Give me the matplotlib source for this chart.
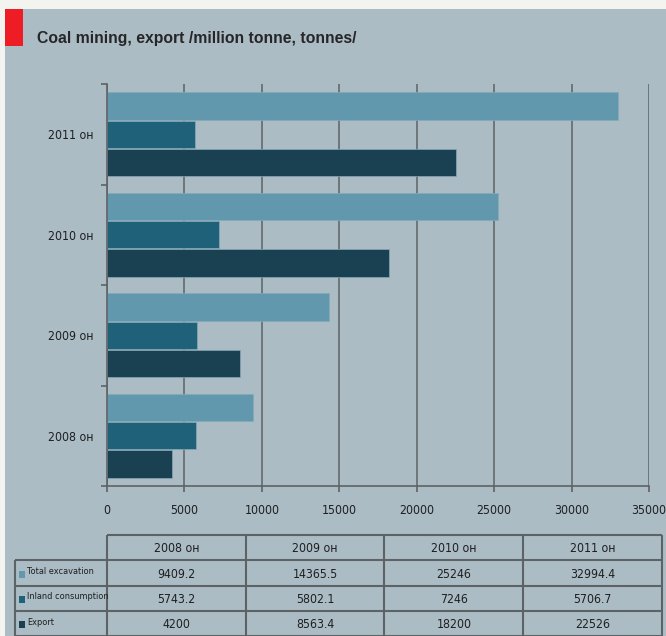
import numpy as np
import matplotlib
matplotlib.use("Agg")
import matplotlib.pyplot as plt
from matplotlib.patches import Rectangle

# figure is laid out in pixels, helpers convert to figure fractions
W, H = 666, 636

years = ["2008", "2009", "2010", "2011"]
year_suffix = "он"
series = ["Total excavation", "Inland consumption", "Export"]
total_excavation = [9409.2, 14365.5, 25246, 32994.4]
inland_consumption = [5743.2, 5802.1, 7246, 5706.7]
export = [4200, 8563.4, 18200, 22526]
table_text = [
    ["9409.2", "14365.5", "25246", "32994.4"],
    ["5743.2", "5802.1", "7246", "5706.7"],
    ["4200", "8563.4", "18200", "22526"],
]
x_ticks = [0, 5000, 10000, 15000, 20000, 25000, 30000, 35000]

colors = ["#6298ad", "#1f6179", "#1a4152"]
panel_bg = "#abbcc4"
grid_col = "#5d6266"
text_col = "#1e1f21"
# narrow labels use the condensed cut of DejaVu Sans
cond = dict(family="DejaVu Sans", fontstretch="condensed", color=text_col)


def fx(px):
    return px / W


def fy(py):
    return 1 - py / H


fig = plt.figure(figsize=(W / 100, H / 100), dpi=100, facecolor="#f3f3ef")

# grey panel and red marker
fig.patches.append(Rectangle((fx(5), 0), fx(W) - fx(5), fy(9), transform=fig.transFigure,
                             facecolor=panel_bg, edgecolor="none", zorder=-5))
fig.patches.append(Rectangle((fx(5), fy(46)), fx(23) - fx(5), fy(9) - fy(46), transform=fig.transFigure,
                             facecolor="#ee1c25", edgecolor="none", zorder=-4))
fig.text(fx(37), fy(38), "Coal mining, export /million tonne, tonnes/", fontsize=11.3,
         fontweight="bold", color="#262628", va="center", ha="left",
         family=["Liberation Sans", "DejaVu Sans"])

# bar chart
ax = fig.add_axes([fx(107), fy(486), fx(649) - fx(107), fy(84) - fy(486)])
ax.set_facecolor("none")
y = np.arange(len(years))
h = 0.272
off = 0.28
values = [total_excavation, inland_consumption, export]
for i, vals in enumerate(values):
    ax.barh(y + off * (1 - i), vals, height=h, color=colors[i],
            edgecolor="#86a9b8", linewidth=0.5, zorder=3)

ax.set_xlim(0, 35000)
ax.set_ylim(-0.5, 3.5)
ax.set_xticks(x_ticks)
ax.set_xticklabels([str(t) for t in x_ticks], fontsize=8.8, **cond)
ax.set_yticks(y)
ax.set_yticklabels([f"{yr} {year_suffix}" for yr in years], fontsize=8.8, **cond)
ax.set_yticks(np.arange(-0.5, 3.6, 1), minor=True)
ax.tick_params(axis="y", which="major", length=0, pad=10)
ax.tick_params(axis="y", which="minor", length=4, width=1.2, color=grid_col, direction="out")
ax.tick_params(axis="x", length=4, width=1.2, color=grid_col, pad=9)
ax.grid(axis="x", color=grid_col, linewidth=1.1, zorder=1)
ax.set_axisbelow(True)
for side in ["top", "right"]:
    ax.spines[side].set_visible(False)
for side in ["left", "bottom"]:
    ax.spines[side].set_color(grid_col)
    ax.spines[side].set_linewidth(1.2)
    ax.spines[side].set_zorder(4)

# data table underneath
lab_w = (107 - 15) / 139
tab = fig.add_axes([fx(15), fy(636), fx(662) - fx(15), fy(535) - fy(636)])
tab.set_xlim(-lab_w, 4)
tab.set_ylim(4, 0)
tab.axis("off")
lw_tab = 1.5
tab.hlines(0, 0, 4, color=grid_col, lw=lw_tab, clip_on=False)
for r in range(1, 5):
    tab.hlines(r, -lab_w, 4, color=grid_col, lw=lw_tab, clip_on=False)
for c in range(5):
    tab.vlines(c, 0, 4, color=grid_col, lw=lw_tab, clip_on=False)
tab.vlines(-lab_w, 1, 4, color=grid_col, lw=lw_tab, clip_on=False)

for c, yr in enumerate(years):
    tab.text(c + 0.5, 0.55, f"{yr} {year_suffix}", ha="center", va="center",
             fontsize=8.8, **cond)
for r, name in enumerate(series):
    tab.add_patch(Rectangle((-lab_w + 0.03, r + 1.42), 0.042, 0.28, facecolor=colors[r],
                            edgecolor="none", clip_on=False))
    tab.text(-lab_w + 0.085, r + 1.45, name, ha="left", va="center",
             fontsize=6.6, **cond)
    for c in range(4):
        tab.text(c + 0.5, r + 1.55, table_text[r][c], ha="center", va="center",
                 fontsize=8.8, **cond)

fig.savefig("out.png", dpi=100, facecolor=fig.get_facecolor())
